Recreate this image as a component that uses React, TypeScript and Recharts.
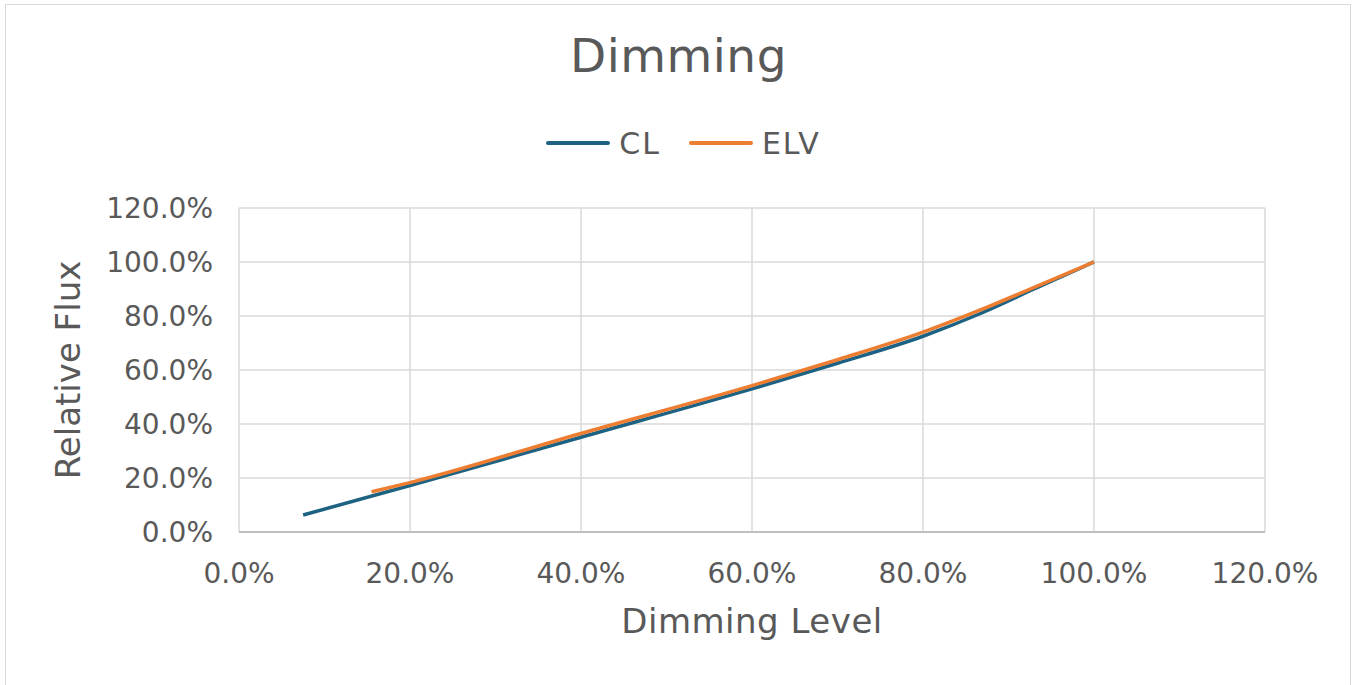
import { LineChart, Line, XAxis, YAxis, CartesianGrid, Legend } from 'recharts';

const dimLevelsCL = [7.5, 20, 40, 60, 70, 80, 87, 93, 100];
const fluxCL = [6.3, 17.2, 35.1, 53.0, 62.5, 72.5, 81.3, 90.0, 100];
const dimLevelsELV = [15.5, 20, 40, 60, 70, 80, 87, 93, 100];
const fluxELV = [14.9, 18.3, 36.5, 54.2, 63.8, 74.0, 82.6, 90.6, 100];
const ticks = [0, 20, 40, 60, 80, 100, 120];

const clData = dimLevelsCL.map((x, i) => ({ x, y: fluxCL[i] }));
const elvData = dimLevelsELV.map((x, i) => ({ x, y: fluxELV[i] }));

const FONT = '"DejaVu Sans", sans-serif';
const TEXT = '#595959';
const CL_COLOUR = '#1d6283';
const ELV_COLOUR = '#ed7d31';

const pct = (v: number) => `${v.toFixed(1)}%`;

function LegendContent() {
  const items = [
    { name: 'CL', colour: CL_COLOUR },
    { name: 'ELV', colour: ELV_COLOUR },
  ];
  return (
    <div style={{ display: 'flex', justifyContent: 'center', alignItems: 'center', height: 40, gap: 28, paddingLeft: 10 }}>
      {items.map((it) => (
        <div key={it.name} style={{ display: 'flex', alignItems: 'center' }}>
          <div style={{ width: 64, height: 4, borderRadius: 2, background: it.colour, marginRight: 9 }} />
          <span style={{ fontFamily: FONT, fontSize: 30, color: TEXT, letterSpacing: 2 }}>{it.name}</span>
        </div>
      ))}
    </div>
  );
}

export default function App() {
  return (
    <div style={{ position: 'absolute', left: 0, top: 0, width: 1357, height: 685, background: '#fff' }}>
      <div
        style={{
          position: 'absolute', left: 5, top: 4, width: 1346, height: 690,
          border: '1px solid #d9d9d9', boxSizing: 'border-box',
        }}
      />
      <div
        style={{
          position: 'absolute', left: 0, top: 28, width: 1357, textAlign: 'center',
          fontFamily: FONT, fontSize: 47, color: TEXT, letterSpacing: 0.5,
        }}
      >
        Dimming
      </div>
      <LineChart
        width={1357}
        height={685}
        margin={{ top: 168, right: 92, bottom: 93, left: 49 }}
        style={{ position: 'absolute', left: 0, top: 0 }}
      >
        <CartesianGrid stroke="#d9d9d9" strokeWidth={1.5} />
        <XAxis
          type="number"
          dataKey="x"
          domain={[0, 120]}
          ticks={ticks}
          tickFormatter={pct}
          tickLine={false}
          tickSize={0}
          tickMargin={31}
          height={60}
          stroke="#bfbfbf"
          strokeWidth={2}
          tick={{ fontSize: 28, fill: TEXT, fontFamily: FONT }}
          label={{ value: 'Dimming Level', position: 'bottom', offset: 17, fontSize: 34, fill: TEXT, fontFamily: FONT, letterSpacing: 0.5 }}
          allowDuplicatedCategory={false}
        />
        <YAxis
          type="number"
          dataKey="y"
          domain={[0, 120]}
          ticks={ticks}
          tickFormatter={pct}
          tickLine={false}
          tickSize={0}
          tickMargin={26}
          width={190}
          axisLine={false}
          tick={{ fontSize: 28, fill: TEXT, fontFamily: FONT }}
          label={{
            value: 'Relative Flux', angle: -90, position: 'insideLeft', offset: 19,
            fontSize: 34, fill: TEXT, fontFamily: FONT, style: { textAnchor: 'middle' },
          }}
        />
        <Legend
          verticalAlign="top"
          content={() => <LegendContent />}
          wrapperStyle={{ top: 123, left: 0, width: 1357, height: 40 }}
        />
        <Line
          data={clData}
          dataKey="y"
          name="CL"
          type="monotone"
          stroke={CL_COLOUR}
          strokeWidth={3.5}
          dot={false}
          isAnimationActive={false}
        />
        <Line
          data={elvData}
          dataKey="y"
          name="ELV"
          type="monotone"
          stroke={ELV_COLOUR}
          strokeWidth={3.5}
          dot={false}
          isAnimationActive={false}
        />
      </LineChart>
    </div>
  );
}
